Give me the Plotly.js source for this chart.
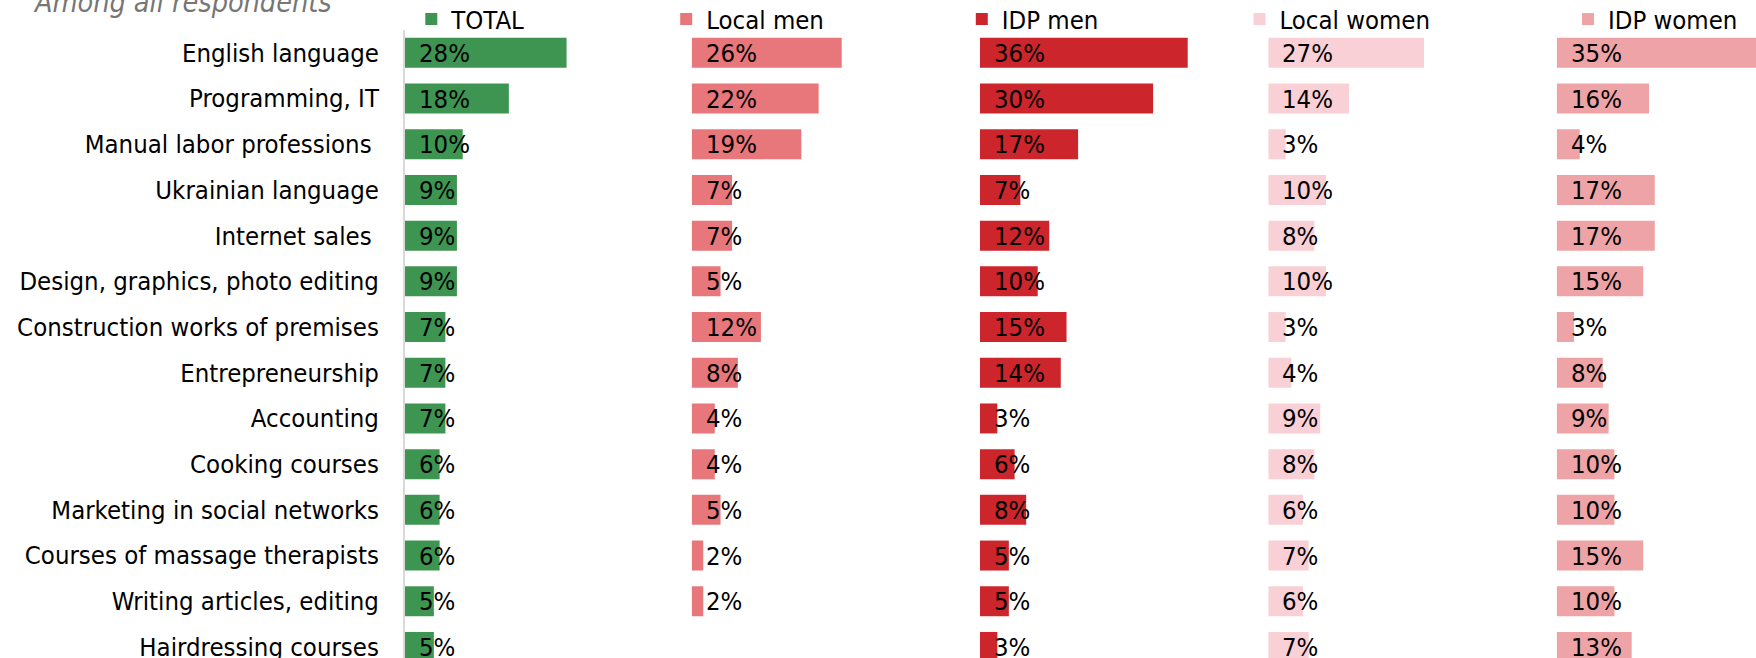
<!DOCTYPE html>
<html>
<head>
<meta charset="utf-8">
<script src="https://cdn.plot.ly/plotly-3.0.1.min.js"></script>
<style>
html,body{margin:0;padding:0;background:#fff;}
#chart{width:1756px;height:658px;}
</style>
</head>
<body>
<div id="chart"></div>
<script>
// ---- data ----
const categories = [
  "English language",
  "Programming, IT",
  "Manual labor professions\u00a0",
  "Ukrainian language",
  "Internet sales\u00a0",
  "Design, graphics, photo editing",
  "Construction works of premises",
  "Entrepreneurship",
  "Accounting",
  "Cooking courses",
  "Marketing in social networks",
  "Courses of massage therapists",
  "Writing articles, editing",
  "Hairdressing courses"
];
const seriesNames = ["TOTAL", "Local men", "IDP men", "Local women", "IDP women"];
const total      = [28, 18, 10, 9, 9, 9, 7, 7, 7, 6, 6, 6, 5, 5];
const localMen   = [26, 22, 19, 7, 7, 5, 12, 8, 4, 4, 5, 2, 2, null];
const idpMen     = [36, 30, 17, 7, 12, 10, 15, 14, 3, 6, 8, 5, 5, 3];
const localWomen = [27, 14, 3, 10, 8, 10, 3, 4, 9, 8, 6, 7, 6, 7];
const idpWomen   = [35, 16, 4, 17, 17, 15, 3, 8, 9, 10, 10, 15, 10, 13];
const titleText = "Among all respondents";

// ---- styling / layout ----
const seriesValues = [total, localMen, idpMen, localWomen, idpWomen];
const colors = ["#3e9551", "#e8777b", "#cc262c", "#f9d0d5", "#eea3a6"];
const W = 1756, H = 658;
const FONT = "DejaVu Sans Condensed, DejaVu Sans, sans-serif";
const FS = 25.5;
const pxPerPct = 5.77;
const panelStarts = [405, 691.7, 980, 1268.3, 1556.7];
const legendSquareLeft = [423.3, 678.2, 973.8, 1251.5, 1580];
const marginTop = 30;
const plotH = H - marginTop;
const pitch = 45.7;

const traces = [];
const annotations = [];
const layout = {
  width: W, height: H,
  margin: {l: 0, r: 0, t: marginTop, b: 0, pad: 0, autoexpand: false},
  paper_bgcolor: "#fff", plot_bgcolor: "rgba(0,0,0,0)",
  font: {family: FONT, size: FS, color: "#000"},
  barmode: "group",
  bargap: 0.344,
  showlegend: true,
  yaxis: {
    type: "category",
    categoryorder: "array", categoryarray: categories,
    range: [-0.5 + plotH / pitch, -0.5], autorange: false,
    domain: [0, 1], anchor: "x",
    showline: true, linecolor: "#d9d9d9", linewidth: 2,
    showgrid: false, zeroline: false, ticks: "",
    ticklabelstandoff: 19,
    tickfont: {family: FONT, size: FS, color: "#000"},
    fixedrange: true
  },
  annotations: annotations
};

seriesNames.forEach((name, i) => {
  const axId = i === 0 ? "x" : "x" + (i + 1);
  const axKey = i === 0 ? "xaxis" : "xaxis" + (i + 1);
  const legKey = i === 0 ? "legend" : "legend" + (i + 1);
  const start = panelStarts[i];
  const end = i < panelStarts.length - 1 ? panelStarts[i + 1] : W;
  layout[axKey] = {
    domain: [start / W, end / W],
    range: [0, (end - start) / pxPerPct],
    autorange: false,
    anchor: "y",
    showgrid: false, zeroline: false, showline: false,
    showticklabels: false, ticks: "", fixedrange: true
  };
  layout[legKey] = {
    x: (legendSquareLeft[i] - 12) / W, xanchor: "left",
    y: 1 + (marginTop - 19.5) / plotH, yanchor: "middle",
    orientation: "h",
    bgcolor: "rgba(0,0,0,0)", borderwidth: 0,
    font: {family: FONT, size: FS, color: "#000"}
  };
  const vals = seriesValues[i];
  traces.push({
    type: "bar", orientation: "h",
    name: name,
    x: vals, y: categories,
    xaxis: axId, yaxis: "y",
    legend: legKey,
    marker: {color: colors[i], line: {width: 0}},
    hoverinfo: "skip"
  });
  vals.forEach((v, j) => {
    if (v === null || v === undefined) return;
    annotations.push({
      xref: axId, yref: "y",
      x: 0, y: categories[j],
      xanchor: "left", yanchor: "middle",
      xshift: 12,
      text: v + "%",
      showarrow: false,
      font: {family: FONT, size: FS, color: "#000"}
    });
  });
});

annotations.push({
  xref: "paper", yref: "paper",
  x: 31 / W, y: 1 + (marginTop - 21) / plotH,
  xanchor: "left", yanchor: "bottom",
  text: titleText, showarrow: false,
  font: {family: FONT, size: 28.5, color: "#767676", style: "italic"}
});

Plotly.newPlot("chart", traces, layout, {displayModeBar: false, staticPlot: true});
</script>
</body>
</html>
